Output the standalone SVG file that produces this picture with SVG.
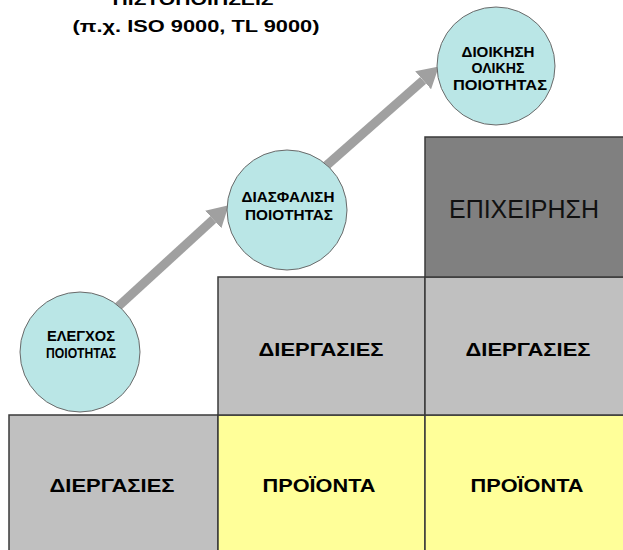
<svg xmlns="http://www.w3.org/2000/svg" width="623" height="550" viewBox="0 0 623 550">
<defs>
<style>
.box{stroke:#3a3a3a;stroke-width:1.5}
.gray{fill:#c0c0c0}
.dark{fill:#808080}
.yellow{fill:#ffff99}
.circ{fill:#bae6e6;stroke:#6a6a6a;stroke-width:1}
.lbl{font-family:"Liberation Sans",Arial,sans-serif;font-weight:bold;fill:#000;text-anchor:middle}
.big{font-family:"Liberation Sans",Arial,sans-serif;font-weight:normal;fill:#111;text-anchor:middle}
.arrow{stroke:#a0a0a0;stroke-width:9;fill:none}
</style>
<marker id="head" markerUnits="userSpaceOnUse" markerWidth="22" markerHeight="24" refX="0" refY="12" orient="auto">
<path d="M0,0 L21,12 L0,24 z" fill="#a0a0a0"/>
</marker>
</defs>
<rect width="623" height="550" fill="#ffffff"/>
<g id="title">
<text class="lbl" x="193" y="5" font-size="17" textLength="161" lengthAdjust="spacingAndGlyphs">ΠΙΣΤΟΠΟΙΗΣΕΙΣ</text>
<text class="lbl" x="196" y="32" font-size="17" textLength="247" lengthAdjust="spacingAndGlyphs">(π.χ. ISO 9000, TL 9000)</text>
</g>
<g id="box-diergasies-1">
<rect class="box gray" x="9" y="415" width="209" height="145"/>
<text class="lbl" x="112" y="492" font-size="18" textLength="125" lengthAdjust="spacingAndGlyphs">ΔΙΕΡΓΑΣΙΕΣ</text>
</g>
<g id="box-proionta-1">
<rect class="box yellow" x="218" y="415" width="207" height="145"/>
<text class="lbl" x="319" y="492" font-size="18" textLength="113" lengthAdjust="spacingAndGlyphs">ΠΡΟΪΟΝΤΑ</text>
</g>
<g id="box-proionta-2">
<rect class="box yellow" x="425" y="415" width="210" height="145"/>
<text class="lbl" x="527" y="492" font-size="18" textLength="113" lengthAdjust="spacingAndGlyphs">ΠΡΟΪΟΝΤΑ</text>
</g>
<g id="box-diergasies-2">
<rect class="box gray" x="218" y="277" width="207" height="138"/>
<text class="lbl" x="321" y="356" font-size="18" textLength="125" lengthAdjust="spacingAndGlyphs">ΔΙΕΡΓΑΣΙΕΣ</text>
</g>
<g id="box-diergasies-3">
<rect class="box gray" x="425" y="277" width="210" height="138"/>
<text class="lbl" x="528" y="356" font-size="18" textLength="125" lengthAdjust="spacingAndGlyphs">ΔΙΕΡΓΑΣΙΕΣ</text>
</g>
<g id="box-epixeirisi">
<rect class="box dark" x="425" y="137" width="210" height="140"/>
<text class="big" x="524" y="218" font-size="26" textLength="150" lengthAdjust="spacingAndGlyphs">ΕΠΙΧΕΙΡΗΣΗ</text>
</g>
<g id="connectors">
<line class="arrow" x1="110" y1="314" x2="213.2" y2="219.5" marker-end="url(#head)"/>
<line class="arrow" x1="310" y1="180" x2="423.1" y2="80.3" marker-end="url(#head)"/>
</g>
<g id="circle-elegxos">
<circle class="circ" cx="80" cy="352" r="60"/>
<text class="lbl" x="81" y="341" font-size="14" textLength="68" lengthAdjust="spacingAndGlyphs">ΕΛΕΓΧΟΣ</text>
<text class="lbl" x="81" y="358" font-size="14" textLength="70" lengthAdjust="spacingAndGlyphs">ΠΟΙΟΤΗΤΑΣ</text>
</g>
<g id="circle-diasfalisi">
<circle class="circ" cx="287" cy="210" r="60"/>
<text class="lbl" x="288" y="202" font-size="15" textLength="93" lengthAdjust="spacingAndGlyphs">ΔΙΑΣΦΑΛΙΣΗ</text>
<text class="lbl" x="289" y="220" font-size="15" textLength="88" lengthAdjust="spacingAndGlyphs">ΠΟΙΟΤΗΤΑΣ</text>
</g>
<g id="circle-dioikisi">
<circle class="circ" cx="496" cy="66" r="59"/>
<text class="lbl" x="498" y="57" font-size="14" textLength="73" lengthAdjust="spacingAndGlyphs">ΔΙΟΙΚΗΣΗ</text>
<text class="lbl" x="498" y="73" font-size="14" textLength="53" lengthAdjust="spacingAndGlyphs">ΟΛΙΚΗΣ</text>
<text class="lbl" x="500" y="90" font-size="14" textLength="94" lengthAdjust="spacingAndGlyphs">ΠΟΙΟΤΗΤΑΣ</text>
</g>
</svg>
